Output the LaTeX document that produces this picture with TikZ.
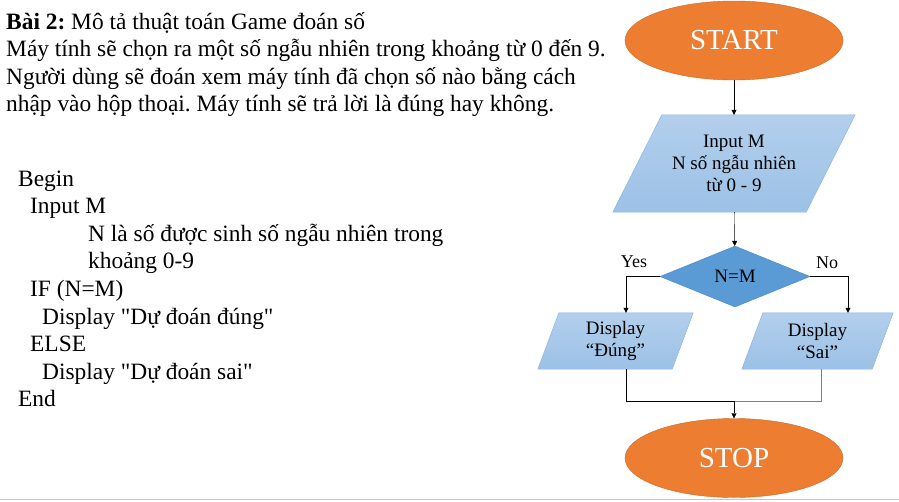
\documentclass[tikz,border=0pt]{standalone}
\usepackage{fontspec}
\setmainfont{Liberation Serif}[Ligatures=TeXOff]
\usetikzlibrary{positioning,arrows.meta,shapes.geometric,backgrounds}
\definecolor{termfill}{HTML}{ED7D31}
\definecolor{termedge}{HTML}{C9692A}
\definecolor{iotop}{HTML}{B3CFEC}
\definecolor{iobot}{HTML}{9BC1E6}
\definecolor{ioedge}{HTML}{86B0DD}
\definecolor{condfill}{HTML}{5B9BD5}
\definecolor{condedge}{HTML}{4A86C0}
\frenchspacing

\begin{document}
\begin{tikzpicture}[x=1pt, y=-1pt,
  txt/.style={anchor=base west, inner sep=0pt, font=\fontsize{23.4}{28}\selectfont},
  term/.style={ellipse, draw=termedge, fill=termfill, minimum width=218pt, minimum height=79pt, inner sep=0pt, text=white, font=\fontsize{29}{34}\selectfont},
  io/.style={rectangle, inner sep=0pt, align=center, font=\fontsize{19}{22}\selectfont},
  iobg/.style={draw=ioedge, top color=iotop, bottom color=iobot},
  cond/.style={diamond, draw=condedge, fill=condfill, minimum width=150pt, minimum height=61pt, inner sep=0pt, font=\fontsize{19}{22}\selectfont},
  arr/.style={-{Triangle[length=5pt, width=5pt]}, thin, black},
  lbl/.style={font=\fontsize{18}{21}\selectfont, inner sep=0pt}
]
\useasboundingbox (0,0) rectangle (899,501);

% bai toan
\node[txt] (title) at (6,29) {\textbf{Bài 2:} Mô tả thuật toán Game đoán số};
\node[txt] (desc1) at (6,56.5) {Máy tính sẽ chọn ra một số ngẫu nhiên trong khoảng từ 0 đến 9.};
\node[txt] (desc2) at (6,84) {Người dùng sẽ đoán xem máy tính đã chọn số nào bằng cách};
\node[txt] (desc3) at (6,111.5) {nhập vào hộp thoại. Máy tính sẽ trả lời là đúng hay không.};

% gia ma
\node[txt] (pBegin) at (18,186) {Begin};
\node[txt] (pInput) at (30,213.6) {Input M};
\node[txt] (pRand1) at (88,241.2) {N là số được sinh số ngẫu nhiên trong};
\node[txt] (pRand2) at (88,268.8) {khoảng 0-9};
\node[txt] (pIf) at (30,296.4) {IF (N=M)};
\node[txt] (pYes) at (42,324) {Display "Dự đoán đúng"};
\node[txt] (pElse) at (30,351.6) {ELSE};
\node[txt] (pNo) at (42,379.2) {Display "Dự đoán sai"};
\node[txt] (pEnd) at (18,406.8) {End};

% so do khoi
\node[term] (start) at (734,40.5) {START};
\node[io, minimum width=242pt, minimum height=97pt] (inp) at (734,163.5) {Input M\\N số ngẫu nhiên\\từ 0 - 9};
\node[cond] (dec) at (735,276.5) {N=M};
\node[io, minimum width=155pt, minimum height=56pt] (yes) at (615.5,341) {Display\\“Đúng”};
\node[io, minimum width=151pt, minimum height=56pt] (no) at (817.5,341) {Display\\“Sai”};
\node[term] (stop) at (734,458) {STOP};
\node[lbl] (lyes) at (634,262) {Yes};
\node[lbl] (lno) at (827,263) {No};
\coordinate (mrg) at (734,401);

\begin{scope}[on background layer]
\path[iobg] ([xshift=49pt]inp.north west) -- (inp.north east) -- ([xshift=-49pt]inp.south east) -- (inp.south west) -- cycle;
\path[iobg] ([xshift=21pt]yes.north west) -- (yes.north east) -- ([xshift=-21pt]yes.south east) -- (yes.south west) -- cycle;
\path[iobg] ([xshift=21pt]no.north west) -- (no.north east) -- ([xshift=-21pt]no.south east) -- (no.south west) -- cycle;
\end{scope}

\draw[arr] (start) -- (inp);
\draw[arr] (inp) -- (dec);
\draw[arr] (dec.west) -| ([xshift=10.5pt]yes.north);
\draw[arr] (dec.east) -| ([xshift=30.5pt]no.north);
\draw[thin] ([xshift=10.5pt]yes.south) |- (mrg);
\draw[gray, semithick] ([xshift=3.5pt]no.south) |- (mrg);
\draw[arr] (mrg) -- (stop);

\draw[gray!45, line width=1.5pt] (0,499.5) -- (899,499.5);
\end{tikzpicture}
\end{document}
